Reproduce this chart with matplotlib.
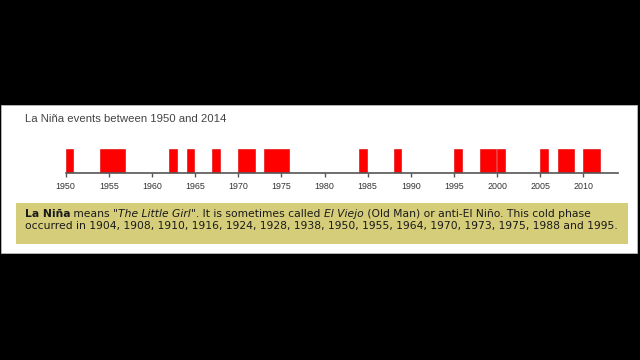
import matplotlib
matplotlib.use("Agg")
import matplotlib.pyplot as plt
from matplotlib.patches import Rectangle
from matplotlib.transforms import IdentityTransform

# ---- data ----
event_start = [1950, 1954, 1962, 1964, 1967, 1970, 1973, 1984, 1988, 1995, 1998, 2000, 2005, 2007, 2010]
event_years = [1, 3, 1, 1, 1, 2, 3, 1, 1, 1, 2, 1, 1, 2, 2]
tick_years = [1950, 1955, 1960, 1965, 1970, 1975, 1980, 1985, 1990, 1995, 2000, 2005, 2010]
tick_labels = [str(y) for y in tick_years]
title_text = "La Niña events between 1950 and 2014"
line1_runs = [("La Niña", "bold"), (' means "', "normal"), ("The Little Girl", "italic"),
              ('". It is sometimes called ', "normal"), ("El Viejo", "italic"),
              (" (Old Man) or anti-El Niño. This cold phase", "normal")]
line2_runs = [("occurred in 1904, 1908, 1910, 1916, 1924, 1928, 1938, 1950, 1955, 1964, "
               "1970, 1973, 1975, 1988 and 1995.", "normal")]

W, H = 640, 360
fig = plt.figure(figsize=(6.4, 3.6), dpi=100, facecolor="black")

def px_rect(x0, y0_top, x1, y1_top, **kw):
    fig.patches.append(Rectangle((x0 / W, 1 - y1_top / H), (x1 - x0) / W, (y1_top - y0_top) / H,
                                 transform=fig.transFigure, figure=fig, zorder=-5, **kw))

# white panel
px_rect(1, 105, 637, 253, facecolor="white", edgecolor="#bbbbbb", lw=0.6)
# khaki box
px_rect(16, 203, 628, 244, facecolor="#d5cd79", edgecolor="none")

# timeline axes
x0, x1 = 65.7, 618.0
y_axis = 172.7
y_top = 149.0
ax = fig.add_axes([x0 / W, 1 - y_axis / H, (x1 - x0) / W, (y_axis - y_top) / H])
ax.set_zorder(2)
ax.patch.set_visible(False)
ax.bar(event_start, [1] * len(event_start), width=[d - 0.12 for d in event_years],
       align="edge", color="#ff0000", edgecolor="#e00000", linewidth=0.4)
ax.set_xlim(1950, 2014)
ax.set_ylim(0, 1)
for s in ["top", "left", "right"]:
    ax.spines[s].set_visible(False)
ax.spines["bottom"].set_color("#555555")
ax.spines["bottom"].set_linewidth(1.2)
ax.set_yticks([])
ax.set_xticks(tick_years)
ax.set_xticklabels(tick_labels, fontsize=6.4, color="#333333", family="Liberation Sans")
ax.tick_params(axis="x", direction="out", length=3, width=1, color="#555555", pad=3.5)

# title
fig.text(25, H - 119, title_text, transform=IdentityTransform(), fontsize=8.2,
         color="#444444", family="Liberation Sans", va="center", ha="left")

# box text
renderer = fig.canvas.get_renderer()
FS = 7.75

def run_width(s, weight, style):
    t1 = fig.text(0, 0, "|" + s + "|", fontsize=FS, family="DejaVu Sans", weight=weight, style=style,
                  transform=IdentityTransform())
    t2 = fig.text(0, 0, "||", fontsize=FS, family="DejaVu Sans", weight=weight, style=style,
                  transform=IdentityTransform())
    w = t1.get_window_extent(renderer).width - t2.get_window_extent(renderer).width
    t1.remove(); t2.remove()
    return w

def draw_runs(x, y_top_px, runs):
    for s, kind in runs:
        weight = "bold" if kind == "bold" else "normal"
        style = "italic" if kind == "italic" else "normal"
        fig.text(x, H - y_top_px, s, fontsize=FS, family="DejaVu Sans", weight=weight, style=style,
                 color="#1a1a1a", va="center", ha="left", transform=IdentityTransform())
        x += run_width(s, weight, style)

draw_runs(25, 214.3, line1_runs)
draw_runs(25, 226.3, line2_runs)

fig.savefig("out.png", dpi=100, facecolor="black")
